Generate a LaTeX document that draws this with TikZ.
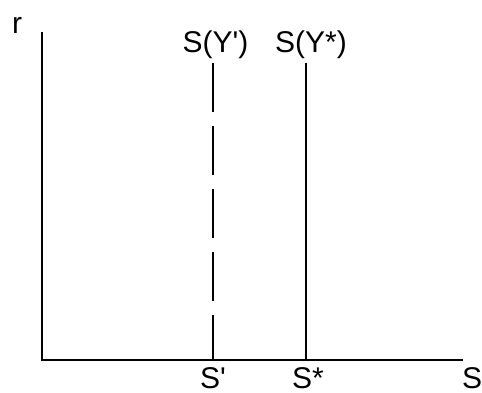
\documentclass[tikz,border=0pt]{standalone}
\usepackage{fontspec}
\setmainfont{Liberation Sans}
\begin{document}
\begin{tikzpicture}[x=1pt,y=-1pt,
  axis/.style={line width=2.2pt},
  curve/.style={line width=2pt},
  lbl/.style={inner sep=0pt,anchor=base,font=\fontsize{30}{30}\selectfont}]
\useasboundingbox (0,0) rectangle (482,392);
\coordinate (o) at (42,360);
\coordinate (ytop) at (42,32);
\coordinate (xend) at (463,360);
\draw[axis] (ytop) -- (o) -- (xend);
\coordinate (a1) at (213,63);
\coordinate (a0) at (213,360);
\coordinate (b1) at (306,63);
\coordinate (b0) at (306,360);
\draw[curve,dash pattern=on 49pt off 14pt] (a1) -- (a0);
\draw[curve] (b1) -- (b0);
\node[lbl] (r) at (17,33) {r};
\node[lbl] (sy1) at (215.5,52) {S(Y\textquotesingle)};
\node[lbl] (sy2) at (311,52) {S(Y*)};
\node[lbl,text depth=0pt] (s1) at (213,388) {S\textquotesingle};
\node[lbl,text depth=0pt] (s2) at (308,388) {S*};
\node[lbl,text depth=0pt] (s) at (472,388) {S};
\end{tikzpicture}
\end{document}
